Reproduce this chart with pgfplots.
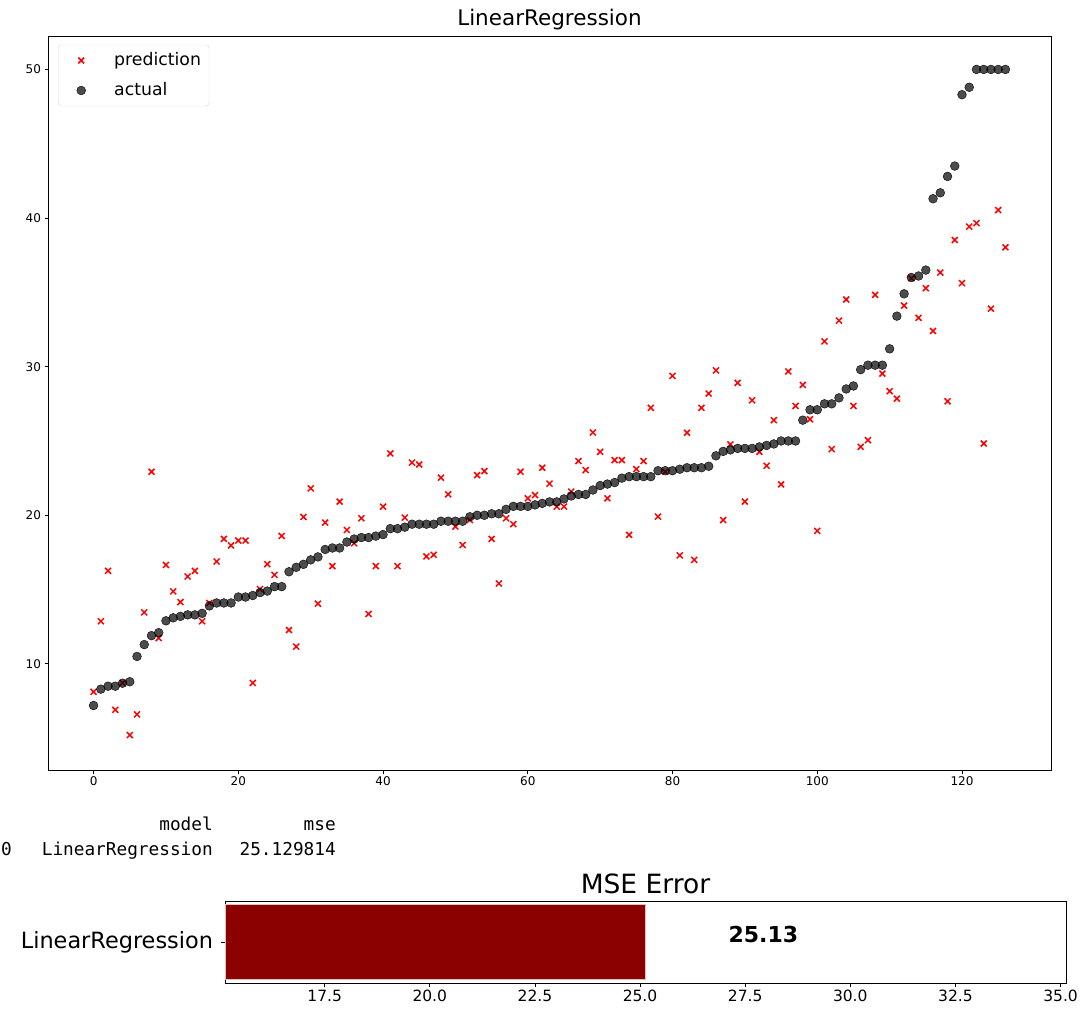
\documentclass[border=0pt]{standalone}
\usepackage{pgfplots}
\usepackage{pgfplotstable}
\pgfplotsset{compat=1.18}
\usepackage{fontspec}
\setmainfont{DejaVu Sans}
\newfontfamily\monofont{DejaVu Sans Mono}
\definecolor{darkred}{HTML}{8B0000}

\pgfplotstableread{
i pred act
0 8.12 7.2
1 12.87 8.3
2 16.26 8.5
3 6.91 8.5
4 8.72 8.7
5 5.21 8.8
6 6.60 10.5
7 13.47 11.3
8 22.93 11.9
9 11.74 12.1
10 16.66 12.9
11 14.88 13.1
12 14.16 13.2
13 15.88 13.3
14 16.26 13.3
15 12.87 13.4
16 14.10 13.9
17 16.89 14.1
18 18.41 14.1
19 17.97 14.1
20 18.30 14.5
21 18.30 14.5
22 8.72 14.6
23 15.03 14.8
24 16.71 14.9
25 15.99 15.2
26 18.61 15.2
27 12.28 16.2
28 11.16 16.5
29 19.89 16.7
30 21.81 17.0
31 14.05 17.2
32 19.51 17.7
33 16.58 17.8
34 20.92 17.8
35 19.01 18.2
36 18.12 18.4
37 19.80 18.5
38 13.36 18.5
39 16.58 18.6
40 20.58 18.7
41 24.16 19.1
42 16.58 19.1
43 19.84 19.2
44 23.54 19.4
45 23.42 19.4
46 17.23 19.4
47 17.34 19.4
48 22.53 19.6
49 21.41 19.6
50 19.24 19.6
51 18.00 19.6
52 19.68 19.9
53 22.70 20.0
54 22.97 20.0
55 18.41 20.1
56 15.41 20.1
57 19.80 20.4
58 19.40 20.6
59 22.93 20.6
60 21.14 20.6
61 21.36 20.7
62 23.20 20.8
63 22.13 20.9
64 20.58 20.9
65 20.58 21.1
66 21.59 21.3
67 23.65 21.4
68 23.04 21.4
69 25.57 21.7
70 24.27 22.0
71 21.14 22.1
72 23.71 22.2
73 23.71 22.5
74 18.68 22.6
75 23.11 22.6
76 23.65 22.6
77 27.23 22.6
78 19.91 23.0
79 22.93 23.0
80 29.38 23.0
81 17.30 23.1
82 25.55 23.2
83 17.00 23.2
84 27.23 23.2
85 28.19 23.3
86 29.75 24.0
87 19.68 24.3
88 24.77 24.4
89 28.91 24.5
90 20.92 24.5
91 27.74 24.5
92 24.27 24.6
93 23.33 24.7
94 26.40 24.8
95 22.08 25.0
96 29.68 25.0
97 27.36 25.0
98 28.77 26.4
99 26.46 27.1
100 18.95 27.1
101 31.70 27.5
102 24.45 27.5
103 33.10 27.9
104 34.52 28.5
105 27.36 28.7
106 24.61 29.8
107 25.05 30.1
108 34.83 30.1
109 29.53 30.1
110 28.35 31.2
111 27.85 33.4
112 34.11 34.9
113 35.95 36.0
114 33.29 36.1
115 35.28 36.5
116 32.40 41.3
117 36.33 41.7
118 27.67 42.8
119 38.52 43.5
120 35.62 48.3
121 39.42 48.8
122 39.66 50.0
123 24.83 50.0
124 33.90 50.0
125 40.54 50.0
126 38.03 50.0
}\data

\begin{document}
\begin{tikzpicture}[x=1pt,y=1pt]
\useasboundingbox (0,0) rectangle (1092,-1024);

\begin{axis}[
  at={(48pt,-36pt)}, anchor=north west,
  scale only axis, width=1003pt, height=734pt,
  xmin=-6.3, xmax=132.3, ymin=2.86, ymax=52.25,
  xtick={0,20,...,120}, ytick={10,20,...,50},
  xtick pos=left, ytick pos=left,
  tick align=outside, major tick length=3.5pt,
  tick style={black, line width=0.8pt},
  axis line style={line width=0.8pt},
  /pgf/number format/assume math mode=true,
  ticklabel style={font=\fontsize{12}{14}\selectfont},
  title={LinearRegression},
  title style={font=\fontsize{21.5}{25}\selectfont, at={(0.5,1)}, anchor=base, yshift=4pt, inner sep=0pt},
  legend style={at={(0.01,0.988)}, anchor=north west,
    font=\fontsize{17.3}{20}\selectfont, draw=black!15, rounded corners=3pt,
    inner xsep=6pt, inner ysep=5pt, row sep=9pt, column sep=14pt,
    nodes={inner sep=2pt, text height=13pt, text depth=4pt},
    cells={anchor=west}},
  legend image code/.code={%
    \path[draw=none, fill=none] (0pt,-4pt) rectangle (34pt,4pt);
    \draw[#1, sharp corners] plot[only marks] coordinates {(17pt,0pt)};},
]
\addplot[only marks, mark=x, red, mark size=4.2pt, mark options={line width=1.5pt}]
  table[x=i, y=pred] {\data};
\addlegendentry{prediction}
\addplot[only marks, mark=*, mark size=4.4pt, mark options={draw=none, fill=black, fill opacity=0.7}]
  table[x=i, y=act] {\data};
\addlegendentry{actual}
\end{axis}

\begin{scope}[every node/.style={inner sep=0pt, font=\monofont\fontsize{17.75}{20}\selectfont}]
\node[anchor=base east] at (213,-830) {model};
\node[anchor=base east] at (336,-830) {mse};
\node[anchor=base west] at (1,-855) {0};
\node[anchor=base east] at (213,-855) {LinearRegression};
\node[anchor=base east] at (336,-855) {25.129814};
\end{scope}

\begin{axis}[
  at={(225pt,-901pt)}, anchor=north west,
  scale only axis, width=841pt, height=82pt,
  xmin=15.13, xmax=35.13, ymin=-0.44, ymax=0.44,
  xtick={17.5,20,...,35}, ytick={0}, yticklabels={LinearRegression},
  xtick pos=left, ytick pos=left,
  tick align=outside, major tick length=3.5pt,
  tick style={black, line width=0.8pt},
  axis line style={line width=0.8pt},
  /pgf/number format/assume math mode=true,
  xticklabel style={font=\fontsize{15.5}{18}\selectfont, /pgf/number format/.cd, fixed, fixed zerofill, precision=1},
  yticklabel style={font=\fontsize{22.4}{26}\selectfont, xshift=-5pt},
  title={MSE Error},
  title style={font=\fontsize{26.5}{30}\selectfont, at={(0.5,1)}, anchor=base, yshift=2pt, inner sep=0pt},
]
\addplot[xbar, bar width=0.8, fill=darkred, draw=white!75!darkred, line width=0.5pt]
  coordinates {(25.129814,0)};
\node[anchor=base west, inner sep=0pt, font=\bfseries\fontsize{22}{26}\selectfont] at (axis cs:27.1,0) {25.13};
\end{axis}
\end{tikzpicture}
\end{document}
